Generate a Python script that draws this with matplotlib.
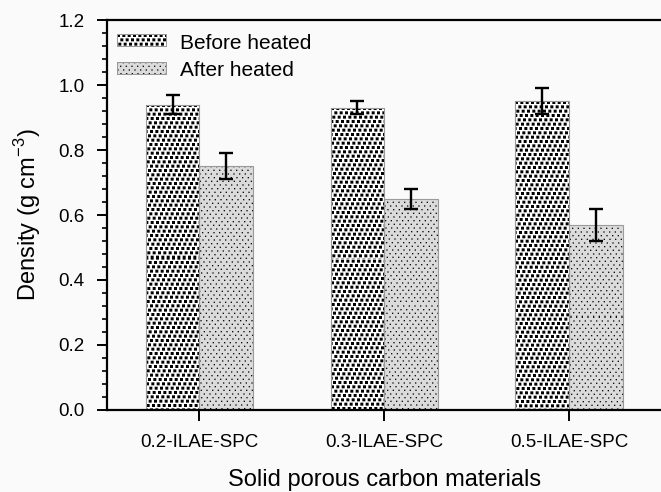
import matplotlib
matplotlib.use("Agg")
import matplotlib.pyplot as plt
import numpy as np
from matplotlib.patches import Patch

plt.rcParams['font.family'] = ['Liberation Sans', 'DejaVu Sans']

samples = ['0.2-ILAE-SPC', '0.3-ILAE-SPC', '0.5-ILAE-SPC']
before = [0.94, 0.93, 0.95]
before_err = [0.03, 0.02, 0.04]
after = [0.75, 0.65, 0.57]
after_err = [0.04, 0.03, 0.05]


def pattern(h, w, kind, s=3):
    """pixel texture (built at s-times resolution, then averaged down):
    black squares on white, or fine dots on light grey"""
    H, W = h * s, w * s
    yy, xx = np.mgrid[0:H, 0:W]
    if kind == 'squares':
        img = np.ones((H, W))
        row = yy // 13
        mask = (yy % 13 < 9) & ((xx + 6 * row) % 16 < 9)
        img[mask] = 0.0
    else:
        img = np.full((H, W), 0.86)
        row = yy // 11
        mask = (yy % 11 < 4) & ((xx + 8 * row) % 17 < 4)
        img[mask] = 0.05
    img = img.reshape(h, s, w, s).mean(axis=(1, 3))
    return np.dstack([img, img, img])


def fill_bar(ax, rect, kind):
    x0, y0 = rect.get_x(), rect.get_y()
    x1, y1 = x0 + rect.get_width(), y0 + rect.get_height()
    (px0, py0), (px1, py1) = ax.transData.transform([(x0, y0), (x1, y1)])
    w = max(int(round(px1 - px0)), 1)
    h = max(int(round(py1 - py0)), 1)
    im = ax.imshow(pattern(h, w, kind), extent=(x0, x1, y0, y1), aspect='auto',
                   interpolation='nearest', zorder=1.5)
    im.set_clip_path(rect)


fig = plt.figure(figsize=(6.61, 4.92), dpi=100)
fig.patch.set_facecolor('#fafafa')
ax = fig.add_axes([0.162, 0.1667, 0.8385, 0.7926])
ax.set_facecolor('#fafafa')

x = np.arange(1, len(samples) + 1)
w = 0.29

ax.set_xlim(0.5, 3.5)
ax.set_ylim(0, 1.2)

b1 = ax.bar(x - w/2, before, w, facecolor='none', edgecolor='#9a9a9a', linewidth=0.8, zorder=2)
b2 = ax.bar(x + w/2, after, w, facecolor='none', edgecolor='#9a9a9a', linewidth=0.8, zorder=2)
for r in b1:
    fill_bar(ax, r, 'squares')
for r in b2:
    fill_bar(ax, r, 'dots')

ax.errorbar(x - w/2, before, yerr=before_err, fmt='none', ecolor='black', elinewidth=1.7,
            capsize=4.7, capthick=1.7, zorder=3)
ax.errorbar(x + w/2, after, yerr=after_err, fmt='none', ecolor='black', elinewidth=1.7,
            capsize=4.7, capthick=1.7, zorder=3)

ax.set_xlim(0.5, 3.5)
ax.set_ylim(0, 1.2)
ax.set_xticks(x)
ax.set_xticklabels(samples, fontsize=13.5)
ax.set_yticks(np.arange(0, 1.21, 0.2))
ax.set_yticklabels(['%.1f' % v for v in np.arange(0, 1.21, 0.2)], fontsize=13.5)
ax.yaxis.set_minor_locator(matplotlib.ticker.MultipleLocator(0.04))
ax.tick_params(axis='y', which='major', direction='out', length=7, width=1.4, pad=9)
ax.tick_params(axis='y', which='minor', direction='out', length=3.6, width=1.2)
ax.tick_params(axis='x', which='major', direction='out', length=8, width=1.4, pad=9)

for s in ['left', 'bottom', 'top']:
    ax.spines[s].set_linewidth(1.6)
ax.spines['right'].set_visible(False)

ax.set_xlabel('Solid porous carbon materials', fontsize=17, labelpad=13)
ax.set_ylabel(r'Density (g cm$^{\mathregular{-3}}$)', fontsize=17, labelpad=11)

proxies = [Patch(facecolor='none', edgecolor='none'), Patch(facecolor='none', edgecolor='none')]
leg = ax.legend(proxies, ['Before heated', 'After heated'], loc='upper left',
                bbox_to_anchor=(0.0, 0.992), frameon=False,
                fontsize=15, handlelength=2.4, handleheight=0.55, borderaxespad=0.1,
                labelspacing=0.4, handletextpad=0.6)

# textured legend keys, put over the empty handles
fig.canvas.draw()
for p, kind in zip(leg.get_patches(), ['squares', 'dots']):
    bb = p.get_window_extent(fig.canvas.get_renderer())
    img = pattern(int(round(bb.height)), int(round(bb.width)), kind)
    img[0, :] = img[-1, :] = 0.6
    img[:, 0] = img[:, -1] = 0.6
    fig.figimage(img, xo=int(round(bb.x0)), yo=int(round(bb.y0)), origin='upper', zorder=6)

plt.savefig('out.png', dpi=100, facecolor=fig.get_facecolor())
